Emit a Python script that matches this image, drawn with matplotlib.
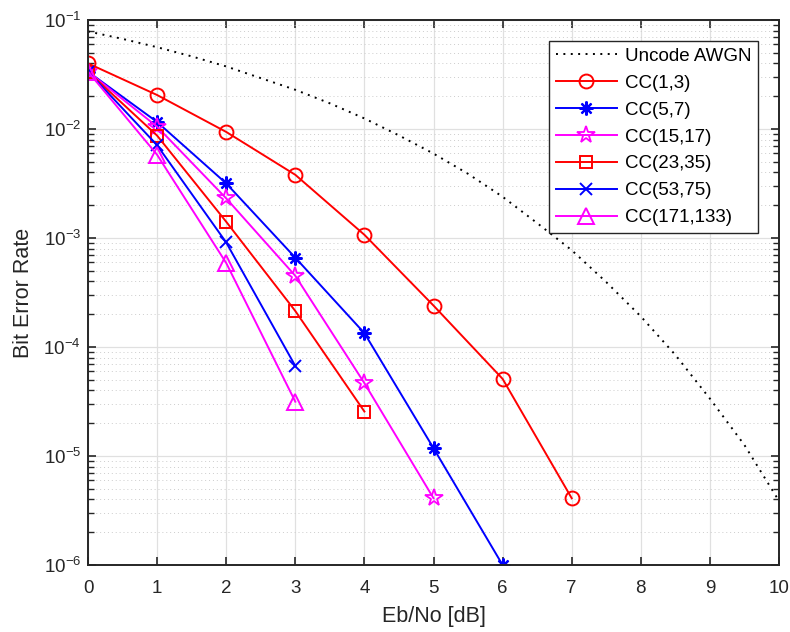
import matplotlib
matplotlib.use("Agg")
import matplotlib.pyplot as plt
from matplotlib.ticker import LogLocator, NullFormatter, LogFormatterMathtext

plt.rcParams['font.family'] = ['Liberation Sans', 'DejaVu Sans']
plt.rcParams['mathtext.fontset'] = 'custom'
plt.rcParams['mathtext.rm'] = 'Liberation Sans'
plt.rcParams['mathtext.it'] = 'Liberation Sans'

# Eb/No axis
ebno_awgn = [0, 0.5, 1, 1.5, 2, 2.5, 3, 3.5, 4, 4.5, 5, 5.5, 6, 6.5, 7, 7.5, 8, 8.5, 9, 9.5, 10]
ber_awgn = [0.0786, 0.0671, 0.0563, 0.0464, 0.0375, 0.0293, 0.0229, 0.0172, 0.0125,
            0.00873, 0.00595, 0.00388, 0.00239, 0.00137, 7.73e-4, 3.94e-4, 1.91e-4,
            8.46e-5, 3.36e-5, 1.26e-5, 3.87e-6]

ebno_13 = [0, 1, 2, 3, 4, 5, 6, 7]
ber_13 = [0.040, 0.0205, 0.0094, 0.0038, 0.00107, 2.4e-4, 5.1e-5, 4.1e-6]

ebno_57 = [0, 1, 2, 3, 4, 5, 6]
ber_57 = [0.0336, 0.0116, 0.00317, 6.6e-4, 1.34e-4, 1.18e-5, 1.0e-6]

ebno_1517 = [0, 1, 2, 3, 4, 5]
ber_1517 = [0.0336, 0.0105, 0.00231, 4.5e-4, 4.66e-5, 4.1e-6]

ebno_2335 = [0, 1, 2, 3, 4]
ber_2335 = [0.0336, 0.0087, 0.00141, 2.14e-4, 2.56e-5]

ebno_5375 = [0, 1, 2, 3]
ber_5375 = [0.0336, 0.0071, 9.1e-4, 6.7e-5]

ebno_171133 = [0, 1, 2, 3]
ber_171133 = [0.0336, 0.0058, 5.9e-4, 3.15e-5]

labels = ['Uncode AWGN', 'CC(1,3)', 'CC(5,7)', 'CC(15,17)', 'CC(23,35)', 'CC(53,75)', 'CC(171,133)']
x_ticks = list(range(0, 11))

fig = plt.figure(figsize=(7.9, 6.32), dpi=100)
ax = fig.add_axes([88 / 790, 1 - 565 / 632, (779 - 88) / 790, (565 - 20) / 632])

lw = 1.4
asterisk = (8, 2, 0)
ax.semilogy(ebno_awgn, ber_awgn, color='black', lw=1.4, ls=(0, (1, 2.8)), label=labels[0])
ax.semilogy(ebno_13, ber_13, '-o', color='red', lw=lw, ms=10, mfc='none', mew=1.4, label=labels[1])
ax.semilogy(ebno_57, ber_57, '-', marker=asterisk, color='blue', lw=lw, ms=10, mew=1.6, label=labels[2])
ax.semilogy(ebno_1517, ber_1517, '-*', color='magenta', lw=lw, ms=13, mfc='none', mew=1.3, label=labels[3])
ax.semilogy(ebno_2335, ber_2335, '-s', color='red', lw=lw, ms=8, mfc='none', mew=1.4, label=labels[4])
ax.semilogy(ebno_5375, ber_5375, '-x', color='blue', lw=lw, ms=8, mfc='none', mew=1.4, label=labels[5])
ax.semilogy(ebno_171133, ber_171133, '-^', color='magenta', lw=lw, ms=11, mfc='none', mew=1.4, label=labels[6])

ax.set_xlim(0, 10)
ax.set_ylim(1e-6, 1e-1)
ax.set_xticks(x_ticks)
ax.yaxis.set_major_locator(LogLocator(base=10, numticks=10))
ax.yaxis.set_minor_locator(LogLocator(base=10, subs=range(2, 10), numticks=20))
ax.yaxis.set_minor_formatter(NullFormatter())
ax.yaxis.set_major_formatter(LogFormatterMathtext())

ax.grid(True, which='major', color='#e0e0e0', lw=0.9, ls='-')
ax.grid(True, which='minor', axis='y', color='#cccccc', lw=0.7, ls=(0, (1, 3)))
ax.set_axisbelow(True)

axis_color = '#262626'
for s in ax.spines.values():
    s.set_color(axis_color)
    s.set_linewidth(1.4)
ax.tick_params(which='both', direction='in', top=True, right=True, colors=axis_color,
               labelcolor=axis_color, labelsize=13.5)
ax.tick_params(which='major', length=6, width=1.2)
ax.tick_params(which='minor', length=4, width=1.0)
ax.tick_params(axis='x', which='major', pad=11)
ax.tick_params(axis='y', which='major', pad=5)

ax.set_xlabel('Eb/No [dB]', fontsize=15.5, color=axis_color, labelpad=6)
ax.set_ylabel('Bit Error Rate', fontsize=15.5, color=axis_color, labelpad=7)

leg = ax.legend(loc='upper right', fontsize=13.5, frameon=True, fancybox=False,
                edgecolor='#262626', framealpha=1, handlelength=3.25, handletextpad=0.45,
                borderpad=0.35, labelspacing=0.52, borderaxespad=0,
                bbox_to_anchor=(0.970, 0.961))
leg.get_frame().set_linewidth(1.0)

fig.savefig('out.png', dpi=100)
